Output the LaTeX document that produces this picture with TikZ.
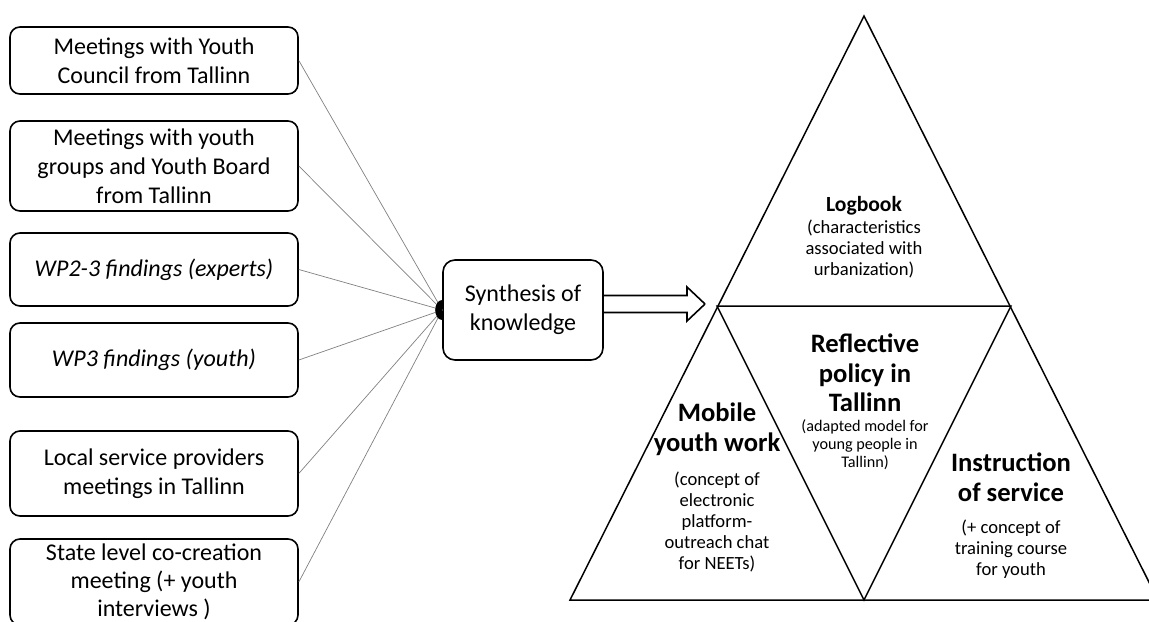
\documentclass[tikz,border=0pt]{standalone}
\usepackage{fontspec}
\setmainfont{Carlito}
\usepackage{tikz}
\usetikzlibrary{calc}

\begin{document}
\begin{tikzpicture}[x = 0.5pt, y = -0.5pt,
	srcbox/.style = {draw, line width = 0.8pt, rounded corners = 5pt, minimum width = 144pt, align = center, inner sep = 2pt, font = \fontsize{12}{14.5}\selectfont},
	link/.style = {gray, line width = 0.35pt},
	tritext/.style = {align = center, inner sep = 0pt, font = \fontsize{13.3}{14.8}\selectfont\bfseries},
	trinote/.style = {align = center, inner sep = 0pt, font = \fontsize{9.3}{10.5}\selectfont}]

	\useasboundingbox (0,0) rectangle (1149,621);

	\node [srcbox, minimum height = 33.5pt] (src1) at (154,60.5) {Meetings with Youth\\Council from Tallinn};
	\node [srcbox, minimum height = 45pt] (src2) at (154,166) {Meetings with youth\\groups and Youth Board\\from Tallinn};
	\node [srcbox, minimum height = 36.5pt] (src3) at (154,269.5) {\itshape WP2-3 findings (experts)};
	\node [srcbox, minimum height = 37pt] (src4) at (154,360) {\itshape WP3 findings (youth)};
	\node [srcbox, minimum height = 42.5pt] (src5) at (154,473.5) {Local service providers\\meetings in Tallinn};
	\node [srcbox, minimum height = 43pt, font = \fontsize{12}{14}\selectfont] (src6) at (154,582) {State level co-creation\\meeting (+ youth\\interviews )};

	\node [srcbox, rounded corners = 6pt, minimum width = 80pt, minimum height = 50pt] (synth) at (523,310) {Synthesis of\\knowledge};
	\coordinate (hub) at (synth.west);

	\foreach \i in {1,...,6}
	{
		\draw [link] (src\i.east) -- (hub);
	}
	\begin{scope}
		\clip (hub) ++(0,-14) rectangle ++(-14,28);
		\fill (hub) circle [x radius = 3.5pt, y radius = 5pt];
	\end{scope}

	\coordinate (tip) at (705,304);
	\begin{scope}[line width = 0.8pt, line join = miter]
		\draw (tip) -- ++(-18,-17) -- ++(0,8.5) -- ++(-84,0);
		\draw (tip) -- ++(-18,17) -- ++(0,-8.5) -- ++(-84,0);
	\end{scope}

	\coordinate (apex) at (864,16);
	\coordinate (lft) at (570,600);
	\coordinate (rgt) at (1158,600);
	\coordinate (midl) at (717,306);
	\coordinate (midr) at (1011,306);
	\coordinate (midb) at (864,600);

	\begin{scope}[line width = 0.75pt]
		\draw (apex) -- (lft) -- (rgt) -- cycle;
		\draw (midl) -- (midr) -- (midb) -- cycle;
	\end{scope}

	\node [tritext, font = \fontsize{10.8}{12}\selectfont\bfseries] (logT) at (864,206) {Logbook};
	\node [trinote] (logN) at (864,249) {(characteristics\\associated with\\urbanization)};

	\node [tritext] (refT) at (865,373) {Reflective\\policy in\\Tallinn};
	\node [trinote, font = \fontsize{8.1}{9}\selectfont] (refN) at (865,445) {(adapted model for\\young people in\\Tallinn)};

	\node [tritext] (mobT) at (717,429) {Mobile\\youth work};
	\node [trinote] (mobN) at (717,522) {(concept of\\electronic\\platform-\\outreach chat\\for NEETs)};

	\node [tritext] (insT) at (1011,477) {Instruction\\of service};
	\node [trinote] (insN) at (1011,549) {(+ concept of\\training course\\for youth};
\end{tikzpicture}
\end{document}
